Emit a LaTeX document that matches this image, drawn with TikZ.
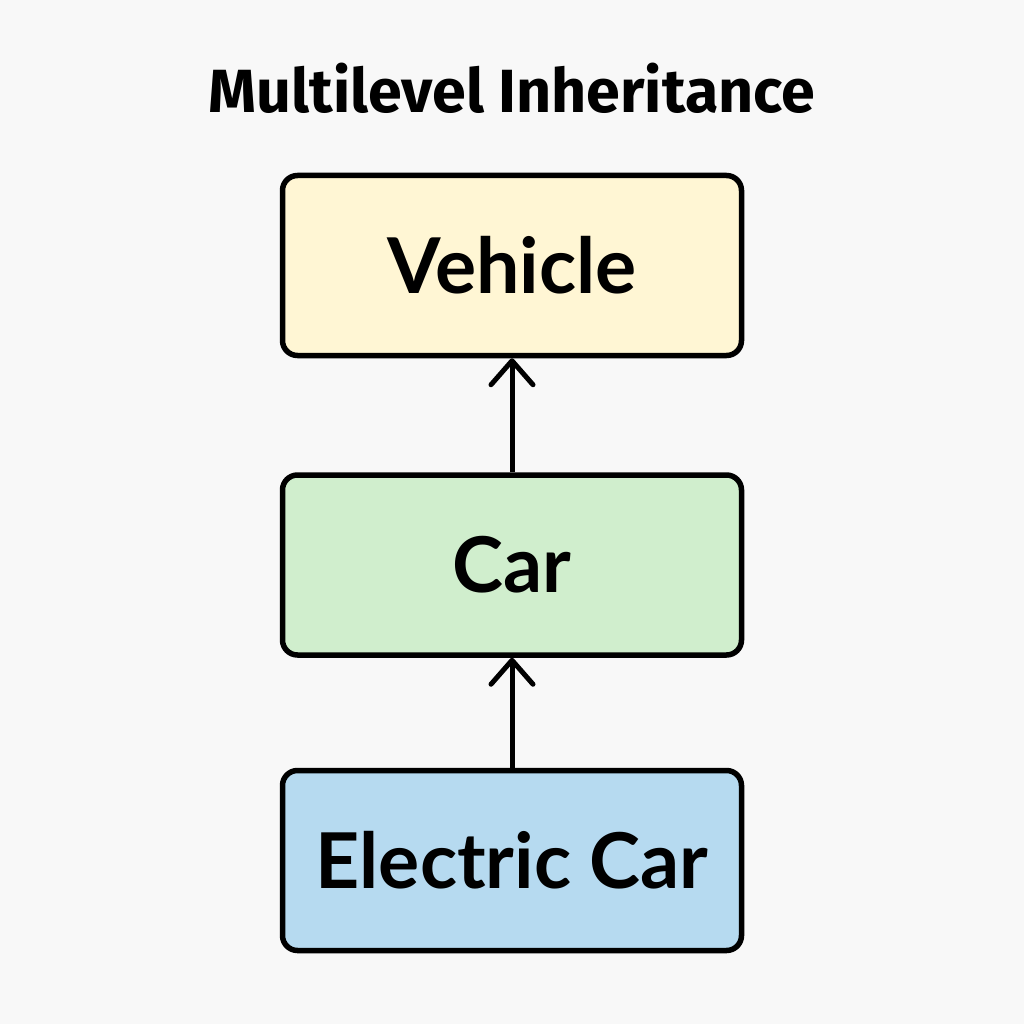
\documentclass[tikz,border=0pt]{standalone}
\usepackage{fontspec}
\setmainfont{Lato}
\newfontfamily\titlefont{Fira Sans}
\usetikzlibrary{positioning}
\usetikzlibrary{arrows.meta}

\definecolor{bgcol}{HTML}{F8F8F8}
\definecolor{vehiclecol}{HTML}{FFF6D4}
\definecolor{carcol}{HTML}{D0EECD}
\definecolor{ecarcol}{HTML}{B6DAF0}

\begin{document}
\begin{tikzpicture}[x=1pt, y=1pt]
\tikzset{classbox/.style = {draw=black, line width=5.5pt, rounded corners=15pt, minimum width=459pt, minimum height=180pt, inner sep=0pt, font=\fontsize{77}{82}\selectfont\bfseries}}
\tikzset{edge/.style = {-{Straight Barb[round, length=24pt, width=42pt]}, line width=5pt}}

\fill[bgcol] (0, 0) rectangle (1024, -1024);
\useasboundingbox (0, 0) rectangle (1024, -1024);

\node[font=\titlefont\fontsize{61}{66}\selectfont\bfseries] (title) at (512, -88) {Multilevel Inheritance};

\node[classbox, fill=vehiclecol] (vehicle) at (512, -265.5) {Vehicle};
\node[classbox, fill=carcol, below=114pt of vehicle] (car) {Car};
\node[classbox, fill=ecarcol, below=110pt of car] (ecar) {Electric Car};

\draw[edge] (car.north) -- (vehicle.south);
\draw[edge] (ecar.north) -- (car.south);

\end{tikzpicture}
\end{document}
